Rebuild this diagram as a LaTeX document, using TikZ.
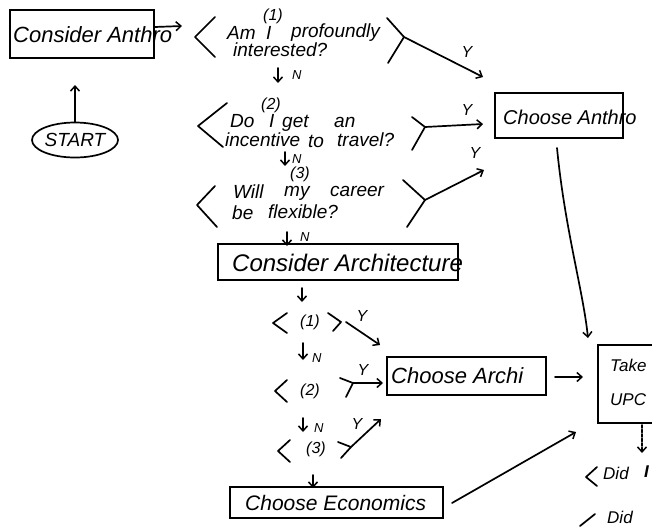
\documentclass[tikz,border=0pt]{standalone}
\usepackage{fontspec}
\setmainfont{Liberation Sans}
\usetikzlibrary{arrows.meta,shapes.geometric}
\begin{document}
\begin{tikzpicture}[x=1pt,y=-1pt,
  ln/.style={line width=1.7pt, line cap=round, line join=round},
  arr/.style={ln, -{Straight Barb[length=5pt,width=9pt,line width=1.5pt]}},
  boxd/.style={draw, line width=1.7pt, inner sep=0pt},
  bt/.style={inner sep=0pt, anchor=west, font=\fontsize{#1}{#1}\selectfont\itshape},
  bt/.default=21,
  qt/.style={inner sep=0pt, anchor=west, font=\fontsize{19}{19}\selectfont\itshape},
  num/.style={inner sep=0pt, font=\fontsize{16}{16}\selectfont\itshape},
  yl/.style={inner sep=0pt, font=\fontsize{16}{16}\selectfont\itshape},
  nl/.style={inner sep=0pt, anchor=west, font=\fontsize{13}{13}\selectfont\itshape}
]
\useasboundingbox (0,0) rectangle (652,528);
\clip (0,0) rectangle (652,528);

% Consider Anthro
\node[boxd, minimum width=144pt, minimum height=48pt] (ca) at (82,34) {};
\node[bt=22] (catxt) at (13,35) {Consider Anthro};
\coordinate (q1in) at (182,26);
\draw[arr] ([yshift=7pt]ca.east) -- (q1in);

% START
\node[draw, ellipse, line width=1.7pt, minimum width=86pt, minimum height=35pt, inner sep=0pt,
      font=\fontsize{19}{19}\selectfont\itshape] (start) at (75,140) {START};
\coordinate (stup) at (75,85);
\draw[arr] (start.north) -- (stup);

% Question 1
\draw[ln] (215,17) -- (195,37) -- (215,57);
\node[num] (n1) at (273,16) {(1)};
\node[qt] (q1a) at (227,33) {Am};
\node[qt] (q1b) at (266,33) {I};
\node[qt] (q1c) at (291,33) {profoundly};
\node[qt] (q1d) at (233,50) {interested?};
\coordinate (f1) at (404,37);
\draw[ln] (387,18) -- (f1) -- (388,63);
\coordinate (y1end) at (483,77);
\draw[arr] (f1) -- (y1end);
\node[yl] (y1) at (467,52) {Y};

\coordinate (d1a) at (278,68); \coordinate (d1b) at (278,83);
\draw[arr] (d1a) -- (d1b);
\node[nl] (nn1) at (292,75) {N};

% Question 2
\draw[ln] (227,103) -- (198,126) -- (223,147);
\node[num] (n2) at (271,105) {(2)};
\node[qt] (q2a) at (230,121) {Do};
\node[qt] (q2b) at (269,121) {I};
\node[qt] (q2c) at (282,123) {get};
\node[qt] (q2d) at (334,122) {an};
\node[qt] (q2e) at (225,140) {incentive};
\node[qt] (q2f) at (308,141) {to};
\node[qt] (q2g) at (337,140) {travel?};
\coordinate (f2) at (425,127);
\draw[ln] (412,117) -- (f2) -- (412,150);
\coordinate (y2end) at (483,124);
\draw[arr] (f2) -- (y2end);
\node[yl] (y2) at (467,110) {Y};

\coordinate (d2a) at (285,152); \coordinate (d2b) at (285,166);
\draw[arr] (d2a) -- (d2b);
\node[nl] (nn2) at (292,159) {N};

% Question 3
\node[num] (n3) at (300,174) {(3)};
\draw[ln] (215,186) -- (197,205) -- (217,227);
\node[qt] (q3a) at (233,192) {Will};
\node[qt] (q3b) at (284,193) {my};
\node[qt] (q3c) at (330,191) {career};
\node[qt] (q3d) at (232,213) {be};
\node[qt] (q3e) at (268,212) {flexible?};
\coordinate (f3) at (425,200);
\draw[ln] (403,180) -- (f3) -- (407,227);
\coordinate (y3end) at (484,170);
\draw[arr] (f3) -- (y3end);
\node[yl] (y3) at (475,153) {Y};

% Choose Anthro
\node[boxd, minimum width=128pt, minimum height=45pt] (can) at (559,115.5) {};
\node[bt=20] (cantxt) at (503,117) {Choose Anthro};

\coordinate (d3a) at (287,232); \coordinate (d3b) at (287,246);
\draw[arr] (d3a) -- (d3b);
\node[nl] (nn3) at (300,237) {N};

% Consider Architecture
\node[boxd, minimum width=240pt, minimum height=36pt] (carch) at (338,262) {};
\node[bt=24] (carchtxt) at (232,263) {Consider Architecture};

\coordinate (d4a) at (302,288); \coordinate (d4b) at (302,302);
\draw[arr] (d4a) -- (d4b);

% a1
\draw[ln] (287,313) -- (273,323) -- (287,333);
\node[num] (a1) at (310,322) {(1)};
\coordinate (g1) at (341,322);
\draw[ln] (328,313) -- (g1) -- (333,331);
\coordinate (g1end) at (380,345);
\draw[arr] ([shift={(5,0)}]g1) -- (g1end);
\node[yl] (ya1) at (362,316) {Y};

\coordinate (d5a) at (303,343); \coordinate (d5b) at (303,360);
\draw[arr] (d5a) -- (d5b);
\node[nl] (nn5) at (312,358) {N};

% a2
\draw[ln] (287,380) -- (275,391) -- (287,402);
\node[num] (a2) at (310,391) {(2)};
\coordinate (g2) at (353,383);
\draw[ln] (340,378) -- (g2) -- (346,397);
\coordinate (g2end) at (383,383);
\draw[arr] (g2) -- (g2end);
\node[yl] (ya2) at (363,370) {Y};

% Choose Archi
\node[boxd, minimum width=159pt, minimum height=38pt] (carc) at (466.5,376) {};
\node[bt=22] (carctxt) at (391,376) {Choose Archi};

\coordinate (d6a) at (303,418); \coordinate (d6b) at (303,432);
\draw[arr] (d6a) -- (d6b);
\node[nl] (nn6) at (314,428) {N};

% a3
\draw[ln] (290,440) -- (278,451) -- (290,462);
\node[num] (a3) at (316,449) {(3)};
\coordinate (g3) at (351,447);
\draw[ln] (338,442) -- (g3) -- (341,458);
\coordinate (g3end) at (381,419);
\draw[arr] (g3) -- (g3end);
\node[yl] (ya3) at (357,424) {Y};

\coordinate (d7a) at (313,475); \coordinate (d7b) at (313,488);
\draw[arr] (d7a) -- (d7b);

% Choose Economics
\node[boxd, minimum width=213pt, minimum height=31pt] (cec) at (336.5,502.5) {};
\node[bt=21] (cectxt) at (245,503) {Choose Economics};

% Take UPC box
\node[boxd, minimum width=90pt, minimum height=78pt] (take) at (643,384) {};
\node[bt=17] (tk1) at (610,365) {Take};
\node[bt=17] (tk2) at (610,400) {UPC};

% connectors into Take
\coordinate (cans) at (557,148);
\coordinate (takein1) at (588,338);
\draw[arr] (cans) .. controls (565,230) and (583,290) .. (takein1);
\coordinate (arcout) at (555,377);
\coordinate (takein2) at (583,377);
\draw[arr] (arcout) -- (takein2);
\coordinate (ecout) at (452,503);
\coordinate (takein3) at (576,432);
\draw[arr] (ecout) -- (takein3);

\coordinate (d8a) at (642,425); \coordinate (d8b) at (642,453);
\draw[arr, dash pattern=on 3pt off 1.5pt] (d8a) -- (d8b);

% Did ...
\draw[ln] (597,467) -- (586,477) -- (597,486);
\node[bt=17] (did1) at (603,473) {Did};
\node[bt=17] (did1b) at (644,472) {\bfseries I};
\draw[ln] (595,514) -- (580,526);
\node[bt=17] (did2) at (607,517) {Did};
\end{tikzpicture}
\end{document}
